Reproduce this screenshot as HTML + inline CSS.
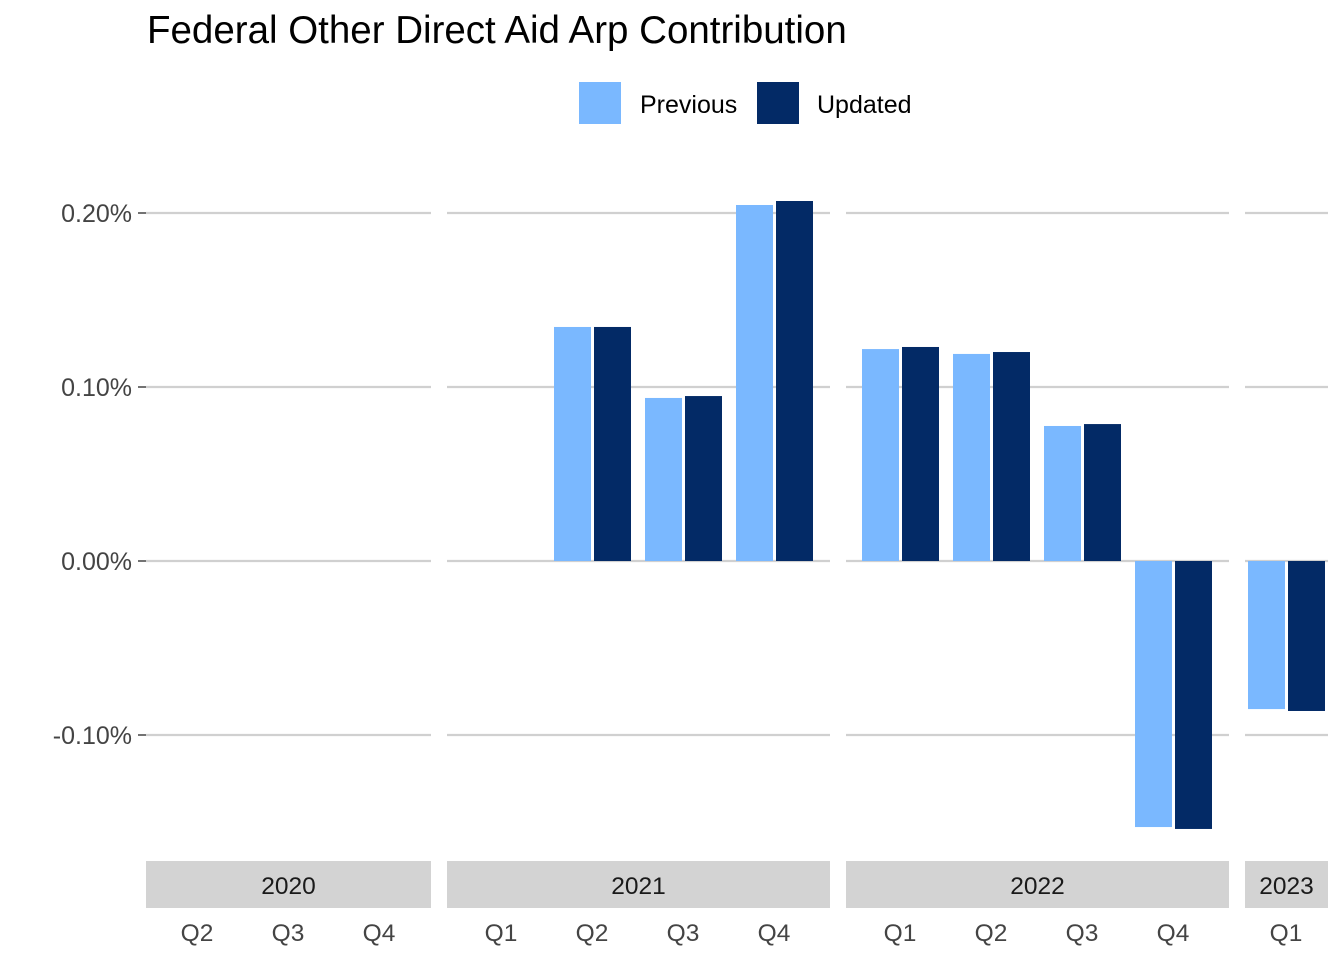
<!DOCTYPE html>
<html><head><meta charset="utf-8"><style>
body{margin:0;background:#fff;font-family:"Liberation Sans",Arial,sans-serif}
</style></head><body>
<svg id="c" width="1344" height="960" xmlns="http://www.w3.org/2000/svg" font-family="Liberation Sans, Arial, sans-serif">
<text x="147" y="43" font-size="38.5" fill="#000">Federal Other Direct Aid Arp Contribution</text>
<g>
<rect x="579" y="82" width="42" height="42" fill="#7ab8ff"/>
<text x="640" y="113" font-size="25">Previous</text>
<rect x="757" y="82" width="42" height="42" fill="#032a66"/>
<text x="817" y="113" font-size="25">Updated</text>
</g>
<g id="g"></g>
</svg>
<script>
const yTicks=[0.2,0.1,0,-0.1];
const yTickLabels=["0.20%","0.10%","0.00%","-0.10%"];
const years=["2020","2021","2022","2023"];
const quarters=[["Q2","Q3","Q4"],["Q1","Q2","Q3","Q4"],["Q1","Q2","Q3","Q4"],["Q1"]];
const previous=[[null,null,null],[null,0.1345,0.0937,0.2046],[0.1218,0.119,0.0776,-0.1529],[-0.0851]];
const updated=[[null,null,null],[null,0.1345,0.0948,0.2069],[0.123,0.1201,0.0787,-0.154],[-0.0862]];
const panels=[{x0:146,x1:431,first:197},{x0:447,x1:830,first:501},{x0:846,x1:1229,first:900},{x0:1245,x1:1328,first:1286}];
const step=91;
const y=v=>561-v*1740;
const g=document.getElementById('g');
const NS='http://www.w3.org/2000/svg';
function mk(t,a){const e=document.createElementNS(NS,t);for(const k in a)e.setAttribute(k,a[k]);g.appendChild(e);return e;}
yTicks.forEach((t,i)=>{
  const l=mk('text',{x:132,y:y(t)+9,'font-size':25,fill:'#444','text-anchor':'end'});l.textContent=yTickLabels[i];
  
  
  const tk=mk('line',{x1:138,x2:146,y1:y(t),y2:y(t),stroke:'#444','stroke-width':1.5});
  
  
});
panels.forEach((p,pi)=>{
  yTicks.forEach(t=>{
    const gl=mk('line',{x1:p.x0,x2:p.x1,y1:y(t),y2:y(t),stroke:'#d0d0d0','stroke-width':2.2});
    
    
  });
  const s=mk('rect',{x:p.x0,y:861,width:p.x1-p.x0,height:47,fill:'#d3d3d3'});
  
  
  const st=mk('text',{x:(p.x0+p.x1)/2,y:894,'font-size':24.5,fill:'#1a1a1a','text-anchor':'middle'});st.textContent=years[pi];
  
  
  quarters[pi].forEach((q,qi)=>{
    const cx=p.first+qi*step;
    const ql=mk('text',{x:cx,y:941,'font-size':24.5,fill:'#444','text-anchor':'middle'});ql.textContent=q;
    
    
    [[previous,'#7ab8ff',cx-38,'previous'],[updated,'#032a66',cx+2,'updated']].forEach(([arr,col,bx,nm])=>{
      const v=arr[pi][qi];if(v==null)return;
      const b=mk('rect',{x:bx,y:Math.min(y(v),y(0)),width:37,height:Math.abs(y(v)-y(0)),fill:col});
      
      
    });
  });
});
</script>
</body></html>
